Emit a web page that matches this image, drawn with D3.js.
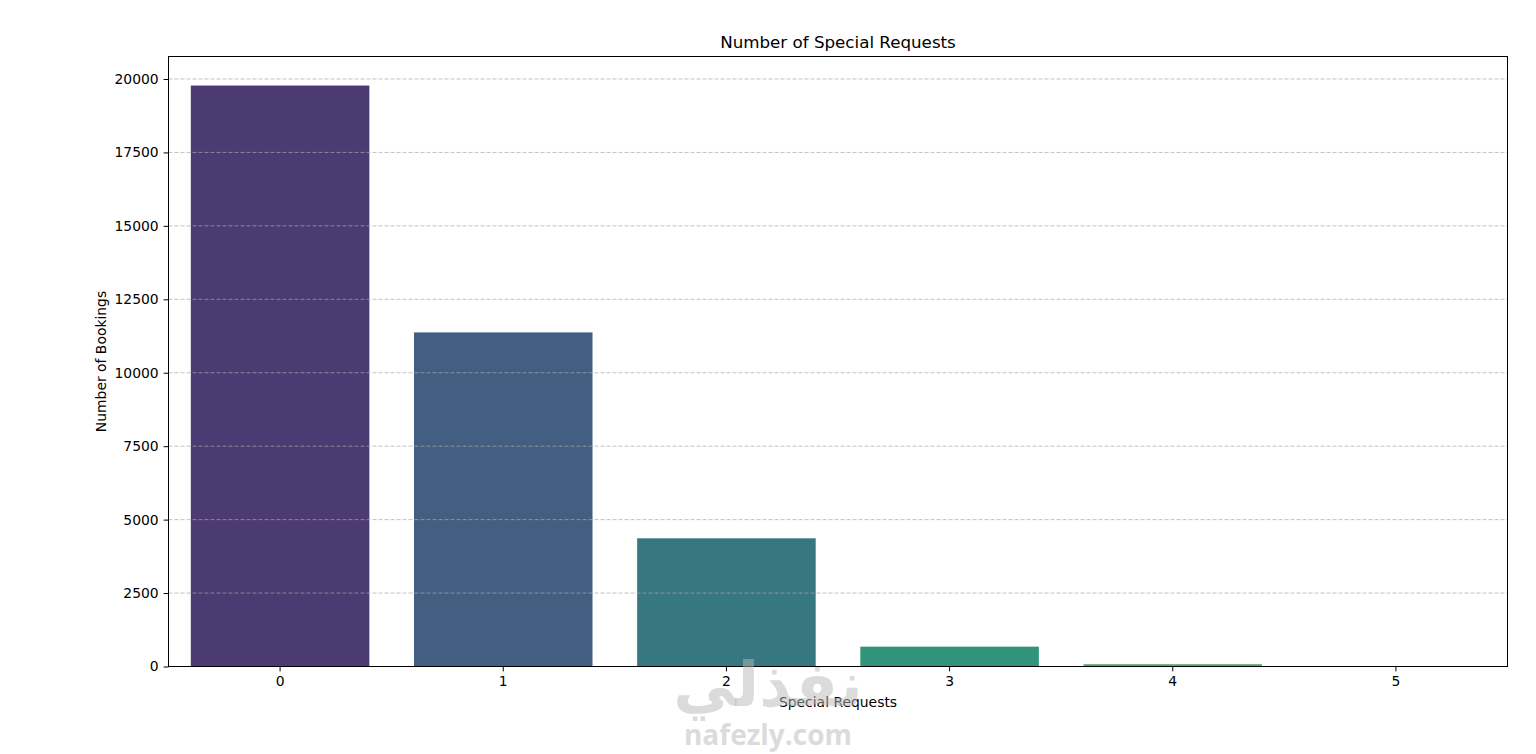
<!DOCTYPE html>
<html lang="en">
<head>
	<meta charset="utf-8">
	<title>Number of Special Requests</title>
	<script src="https://d3js.org/d3.v7.min.js"></script>
	<style>
	body {margin: 0; background: #ffffff;}
	svg text {font-family: "DejaVu Sans", sans-serif;}
	</style>
</head>
<body>
<div id="chart"></div>
<script>

//Chart data
var categories = ["0", "1", "2", "3", "4", "5"];
var bookings = [19777, 11373, 4364, 675, 78, 8];
var barColors = ["#4c3a73", "#425f82", "#367780", "#31937a", "#5aa46d", "#c2b74c"];
var yTicks = [0, 2500, 5000, 7500, 10000, 12500, 15000, 17500, 20000];

var width = 1536, height = 754;
var margin = {top: 56.5, right: 28.5, bottom: 87.5, left: 168.5};
var plotW = width - margin.left - margin.right;
var plotH = height - margin.top - margin.bottom;

var svg = d3.select("#chart").append("svg")
	.attr("width", width)
	.attr("height", height);

var g = svg.append("g")
	.attr("transform", "translate(" + margin.left + "," + margin.top + ")");

//Scales
var xScale = d3.scaleBand()
	.domain(categories)
	.range([0, plotW])
	.paddingInner(0.2)
	.paddingOuter(0.1);

var yScale = d3.scaleLinear()
	.domain([0, d3.max(bookings) * 1.05])
	.range([plotH, 0]);

//Bars
g.selectAll("rect.bar")
	.data(bookings)
	.enter()
	.append("rect")
	.attr("class", "bar")
	.attr("x", function(d, i){ return xScale(categories[i]); })
	.attr("y", function(d){ return yScale(d); })
	.attr("width", xScale.bandwidth())
	.attr("height", function(d){ return plotH - yScale(d); })
	.attr("fill", function(d, i){ return barColors[i]; });

//Dashed grid on top of the bars
g.selectAll("line.grid")
	.data(yTicks)
	.enter()
	.append("line")
	.attr("class", "grid")
	.attr("x1", 0)
	.attr("x2", plotW)
	.attr("y1", function(d){ return yScale(d); })
	.attr("y2", function(d){ return yScale(d); })
	.attr("stroke", "#a8a8a8")
	.attr("stroke-opacity", 0.7)
	.attr("stroke-width", 1)
	.attr("stroke-dasharray", "4,2");

//Axes
var yAxis = d3.axisLeft(yScale).tickValues(yTicks).tickSize(4.9).tickPadding(4.9).tickFormat(d3.format("d"));
var xAxis = d3.axisBottom(xScale).tickSize(4.9).tickPadding(4.9);

var gy = g.append("g").call(yAxis);
var gx = g.append("g").attr("transform", "translate(0," + plotH + ")").call(xAxis);

[gx, gy].forEach(function(a){
	a.select(".domain").remove();
	a.selectAll("line").attr("stroke", "#000").attr("stroke-width", 1);
	a.selectAll("text").style("font-size", "13.9px").attr("fill", "#000")
		.style("font-family", "'DejaVu Sans', sans-serif");
});

//Frame
g.append("rect")
	.attr("width", plotW)
	.attr("height", plotH)
	.attr("fill", "none")
	.attr("stroke", "#000")
	.attr("stroke-width", 1);

//Titles
svg.append("text")
	.attr("x", margin.left + plotW / 2)
	.attr("y", 48)
	.attr("text-anchor", "middle")
	.style("font-size", "16.7px")
	.text("Number of Special Requests");

svg.append("text")
	.attr("x", margin.left + plotW / 2)
	.attr("y", 707)
	.attr("text-anchor", "middle")
	.style("font-size", "13.9px")
	.text("Special Requests");

svg.append("text")
	.attr("transform", "translate(106," + (margin.top + plotH / 2) + ") rotate(-90)")
	.attr("text-anchor", "middle")
	.style("font-size", "13.9px")
	.text("Number of Bookings");

//Watermark
svg.append("text")
	.attr("x", 768)
	.attr("y", 706)
	.attr("text-anchor", "middle")
	.attr("fill", "#b8b8b8")
	.attr("fill-opacity", 0.5)
	.style("font-size", "62px")
	.style("font-weight", "bold")
	.style("font-family", "'DejaVu Sans', sans-serif")
	.text("نفذلي");

svg.append("text")
	.attr("x", 768)
	.attr("y", 745)
	.attr("text-anchor", "middle")
	.attr("fill", "#b8b8b8")
	.attr("fill-opacity", 0.5)
	.style("font-size", "28px")
	.style("font-weight", "bold")
	.style("font-family", "'Open Sans', sans-serif")
	.text("nafezly.com");

</script>
</body>
</html>
